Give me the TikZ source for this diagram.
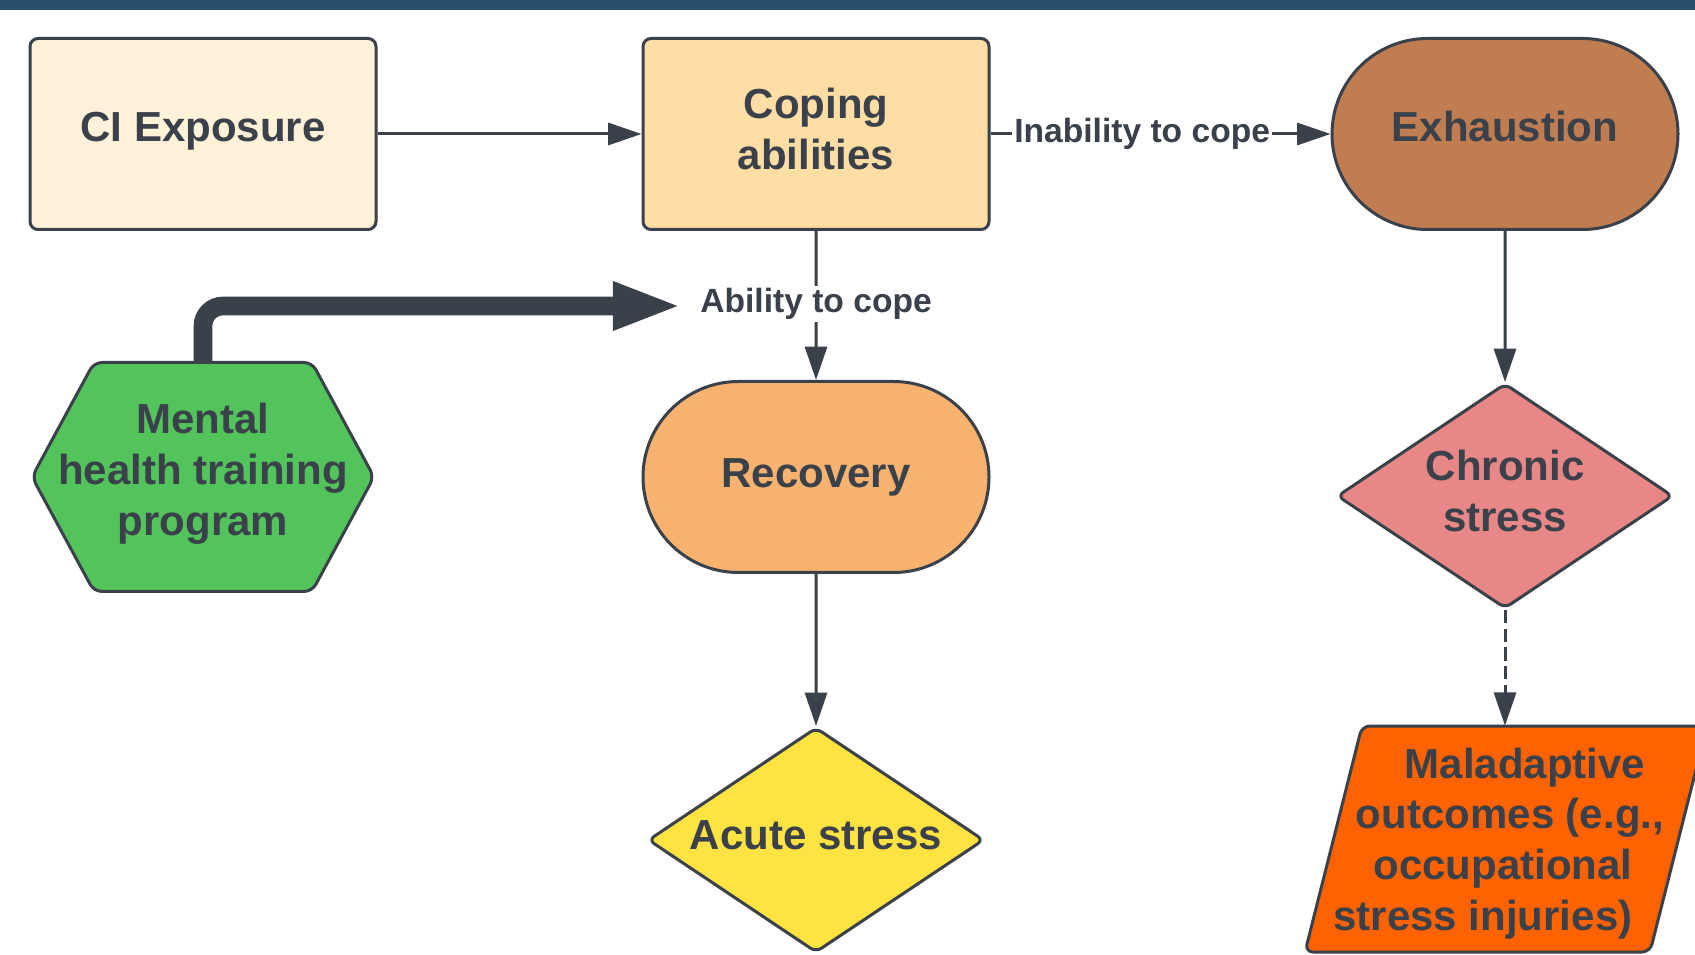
\documentclass[tikz,border=0pt]{standalone}
\usepackage{fontspec}
\setmainfont{Liberation Sans}
\usetikzlibrary{arrows.meta,positioning,calc,backgrounds}
\usetikzlibrary{shapes.geometric,shapes.misc}
\definecolor{colorBar}{HTML}{264D6A}
\definecolor{colorInk}{HTML}{3A414A}
\definecolor{colorExpo}{HTML}{FFF2D9}
\definecolor{colorCope}{HTML}{FFDEA6}
\definecolor{colorExh}{HTML}{C17D52}
\definecolor{colorMent}{HTML}{53C45B}
\definecolor{colorRec}{HTML}{F8B26F}
\definecolor{colorAcute}{HTML}{FFE342}
\definecolor{colorChron}{HTML}{E78787}
\definecolor{colorMal}{HTML}{FF6200}
\newcommand{\lowstrut}[1]{\vrule width 0pt height 0pt depth #1}
\newcommand{\highstrut}[1]{\vrule width 0pt depth 0pt height #1}

\begin{document}
\begin{tikzpicture}[x=0.75pt,y=0.75pt,every node/.append style={align=center,text=colorInk,font=\bfseries\fontsize{31.5}{38}\selectfont},box/.style={draw=colorInk,line width=2.25pt,rounded corners=6pt,minimum width=259.5pt,minimum height=143.25pt,inner sep=0pt},term/.style={rounded rectangle,draw=colorInk,line width=2.25pt,minimum width=259.5pt,minimum height=143.25pt,inner sep=0pt},decision/.style={diamond,aspect=1.5,draw=colorInk,line width=2.25pt,rounded corners=5pt,minimum width=252pt,minimum height=168.75pt,inner sep=0pt},outline/.style={draw=colorInk,line width=2.25pt,rounded corners=6pt},flow/.style={draw=colorInk,line width=2.25pt,-{Triangle[length=25pt,width=16.5pt]}},bigflow/.style={draw=colorInk,line width=14pt,rounded corners=15pt,-{Triangle[length=52pt,width=33pt]},shorten >=11pt},lbl/.style={fill=white,inner sep=1.5pt,font=\bfseries\fontsize{25.2}{30}\selectfont},]
    \useasboundingbox (0,0) rectangle (1695,954);
    \clip (0,0) rectangle (1695,954);
    \fill[colorBar] (0,944) rectangle (1695,954);
    % top row
    \node [box, fill=colorExpo] (expo) at (203,820) {CI Exposure\lowstrut{11.2pt}};
    \node [box, fill=colorCope] (cope) at (816,820) {Coping\\abilities\lowstrut{8pt}};
    \node [term, fill=colorExh] (exh) at (1505,820) {Exhaustion\lowstrut{11.3pt}};
    % middle and bottom
    \node [minimum width=256.5pt, minimum height=171.75pt, inner sep=0pt] (ment) at (203,477) {Mental\\health training\\program\lowstrut{11.6pt}};
    \node [term, fill=colorRec] (rec) at (816,477) {Recovery};
    \node [decision, fill=colorChron] (chron) at (1505,458) {Chronic\\stress\lowstrut{8pt}};
    \node [decision, fill=colorAcute] (acute) at (816,114) {Acute stress\lowstrut{8pt}};
    \node [minimum height=169.5pt, inner sep=0pt] (mal) at (1503,115) {\highstrut{29.5pt}\hspace*{33pt}Maladaptive\\\hspace*{10.5pt}outcomes (e.g.,\\occupational\hspace*{10.5pt}\\stress injuries)\hspace*{30pt}};
    \begin{scope}[on background layer]
        \clip (0,0) rectangle (1695,954);
        \path[outline, fill=colorMent] ($(ment)+(-171,0)$) -- ($(ment)+(-109,114.5)$) -- ($(ment)+(109,114.5)$) -- ($(ment)+(171,0)$) -- ($(ment)+(109,-114.5)$) -- ($(ment)+(-109,-114.5)$) -- cycle;
        \path[outline, fill=colorMal] ($(mal)+(-141,113)$) -- ($(mal)+(204,113)$) -- ($(mal)+(147,-113)$) -- ($(mal)+(-198,-113)$) -- cycle;
    \end{scope}
    % connectors
    \path[flow] (expo) -- (cope);
    \path[flow] (cope) -- node [lbl, pos=0.446] (inab) {Inability to cope} (exh);
    \path[flow] (cope) -- node [lbl, pos=0.49] (able) {Ability to cope} (rec);
    \path[flow] (rec) -- (acute);
    \path[flow] (exh) -- (chron);
    \path[flow, dash pattern=on 10pt off 4pt] (chron.south) -- (chron.south |- mal.north);
    \path[bigflow] (ment.north) |- ([yshift=-1.5pt]able.west);
\end{tikzpicture}
\end{document}
